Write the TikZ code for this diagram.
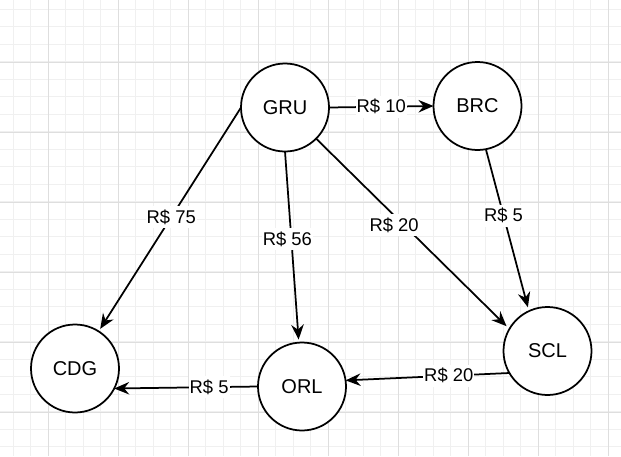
\documentclass[tikz,border=0pt]{standalone}
\usepackage{fontspec}
\setmainfont{Liberation Sans}
\usetikzlibrary{arrows.meta}
\begin{document}
\begin{tikzpicture}[x=1pt,y=-1pt,
  city/.style={circle,draw=black,line width=1.75pt,fill=white,minimum size=88pt,inner sep=0pt,outer sep=0pt,font=\fontsize{20}{24}\selectfont},
  conn/.style={line width=1.75pt,-{Stealth[length=15pt,width=12.5pt,inset=5pt]}},
  price/.style={fill=white,inner xsep=1pt,inner ysep=3.5pt,font=\fontsize{18.4}{22}\selectfont},
  minorgrid/.style={draw=black!6,line width=1pt},
  majorgrid/.style={draw=black!13,line width=1pt}]
\useasboundingbox (0,0) rectangle (621,456);
\fill[white] (0,0) rectangle (621,456);
\foreach \i in {0,...,34} \draw[minorgrid] ({13.3+17.5*\i},0) -- ({13.3+17.5*\i},456);
\foreach \i in {0,...,25} \draw[minorgrid] (0,{9.3+17.5*\i}) -- (621,{9.3+17.5*\i});
\foreach \i in {0,...,8} \draw[majorgrid] ({48.3+70*\i},0) -- ({48.3+70*\i},456);
\foreach \i in {0,...,5} \draw[majorgrid] (0,{62.3+70*\i}) -- (621,{62.3+70*\i});

\node[city] (GRU) at (285,107.5) {GRU};
\node[city] (BRC) at (477.5,106) {BRC};
\node[city] (SCL) at (547.5,351) {SCL};
\node[city] (ORL) at (302,386.5) {ORL};
\node[city] (CDG) at (75,368.5) {CDG};

\draw[conn] (GRU.east) -- node[price,pos=0.5]{R\$ 10} (BRC.west);
\draw[conn,shorten >=3pt] (GRU.west) -- node[price,pos=0.49]{R\$ 75} (CDG);
\draw[conn,shorten >=3pt] (GRU.south) -- node[price,pos=0.46,xshift=-4pt]{R\$ 56} (ORL);
\draw[conn,shorten >=4pt] (GRU.-45) -- node[price,pos=0.455,xshift=-10pt]{R\$ 20} (SCL.150);
\draw[conn,shorten >=4pt] (BRC.-79) -- node[price,pos=0.41]{R\$ 5} (SCL.115);
\draw[conn] (SCL.210) -- node[price,pos=0.37]{R\$ 20} (ORL.8);
\draw[conn] (ORL.west) -- node[price,pos=0.34]{R\$ 5} (CDG.-27);
\end{tikzpicture}
\end{document}
